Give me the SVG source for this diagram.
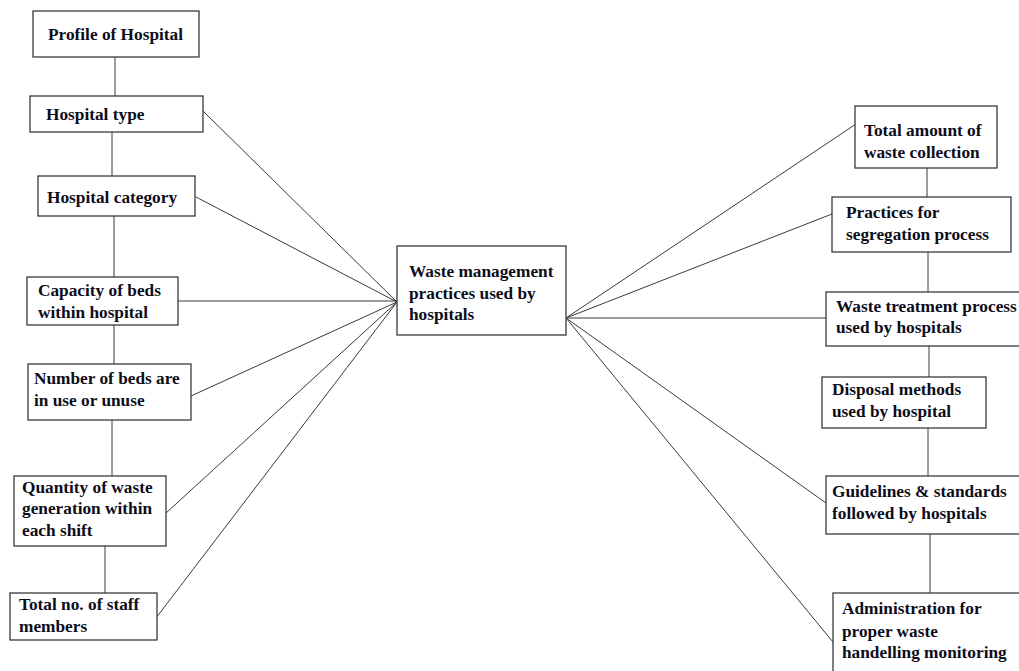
<svg xmlns="http://www.w3.org/2000/svg" width="1019" height="671" viewBox="0 0 1019 671">
<style>
.box{fill:#fff;stroke:#3a3a3a;stroke-width:1.3}
.t{font-family:"Liberation Serif","Times New Roman",serif;font-weight:bold;font-size:17.3px;fill:#0d0d1a}
.c{stroke:#3a3a3a;stroke-width:1;fill:none}
</style>
<rect width="1019" height="671" fill="#fff"/>
<g id="connectors">
<line class="c" x1="115" y1="57" x2="115" y2="96"/>
<line class="c" x1="112" y1="132" x2="112" y2="176"/>
<line class="c" x1="114" y1="216" x2="114" y2="277"/>
<line class="c" x1="114" y1="325" x2="114" y2="364"/>
<line class="c" x1="112" y1="420" x2="112" y2="476"/>
<line class="c" x1="105" y1="546" x2="105" y2="593"/>
<line class="c" x1="927" y1="168" x2="927" y2="197"/>
<line class="c" x1="928" y1="252" x2="928" y2="292"/>
<line class="c" x1="929" y1="346" x2="929" y2="377"/>
<line class="c" x1="928" y1="428" x2="928" y2="476"/>
<line class="c" x1="930" y1="534" x2="930" y2="593"/>
<line class="c" x1="203" y1="111" x2="397" y2="302"/>
<line class="c" x1="196" y1="197" x2="397" y2="302"/>
<line class="c" x1="178" y1="301" x2="397" y2="301"/>
<line class="c" x1="191" y1="396" x2="397" y2="302"/>
<line class="c" x1="166" y1="513" x2="397" y2="302"/>
<line class="c" x1="156" y1="618" x2="397" y2="302"/>
<line class="c" x1="566" y1="318" x2="856" y2="124"/>
<line class="c" x1="566" y1="318" x2="832" y2="214"/>
<line class="c" x1="566" y1="318" x2="826" y2="318"/>
<line class="c" x1="566" y1="318" x2="826" y2="503"/>
<line class="c" x1="566" y1="318" x2="833" y2="642"/>
</g>
<g id="profile"><rect class="box" x="33" y="11" width="166" height="46"/><text class="t" x="48" y="40">Profile of Hospital</text></g>
<g id="type"><rect class="box" x="30" y="96" width="173" height="36"/><text class="t" x="46" y="120">Hospital type</text></g>
<g id="category"><rect class="box" x="38" y="176" width="157" height="40"/><text class="t" x="47" y="203">Hospital category</text></g>
<g id="capacity"><rect class="box" x="27" y="277" width="151" height="48"/><text class="t" x="38" y="296">Capacity of beds</text><text class="t" x="38" y="318">within hospital</text></g>
<g id="beds"><rect class="box" x="28" y="364" width="163" height="56"/><text class="t" x="34" y="384">Number of beds are</text><text class="t" x="34" y="406">in use or unuse</text></g>
<g id="quantity"><rect class="box" x="14" y="476" width="152" height="70"/><text class="t" x="22" y="493">Quantity of waste</text><text class="t" x="22" y="514">generation within</text><text class="t" x="22" y="536">each shift</text></g>
<g id="staff"><rect class="box" x="10" y="593" width="147" height="47"/><text class="t" x="19" y="610">Total no. of staff</text><text class="t" x="19" y="632">members</text></g>
<g id="center"><rect class="box" x="397" y="246" width="169" height="89"/><text class="t" x="409" y="277">Waste management</text><text class="t" x="409" y="299">practices used by</text><text class="t" x="409" y="320">hospitals</text></g>
<g id="total"><rect class="box" x="855" y="106" width="142" height="62"/><text class="t" x="864" y="136">Total amount of</text><text class="t" x="864" y="158">waste collection</text></g>
<g id="segregation"><rect class="box" x="832" y="197" width="179" height="55"/><text class="t" x="846" y="218">Practices for</text><text class="t" x="846" y="240">segregation process</text></g>
<g id="treatment"><rect class="box" x="826" y="292" width="210" height="54"/><text class="t" x="836" y="312">Waste treatment process</text><text class="t" x="836" y="333">used by hospitals</text></g>
<g id="disposal"><rect class="box" x="822" y="377" width="164" height="51"/><text class="t" x="832" y="395">Disposal methods</text><text class="t" x="832" y="417">used by hospital</text></g>
<g id="guidelines"><rect class="box" x="826" y="476" width="194" height="58"/><text class="t" x="832" y="497">Guidelines &amp; standards</text><text class="t" x="832" y="519">followed by hospitals</text></g>
<g id="admin"><rect class="box" x="833" y="593" width="190" height="90"/><text class="t" x="842" y="614">Administration for</text><text class="t" x="842" y="637">proper waste</text><text class="t" x="842" y="658">handelling monitoring</text></g>
</svg>
